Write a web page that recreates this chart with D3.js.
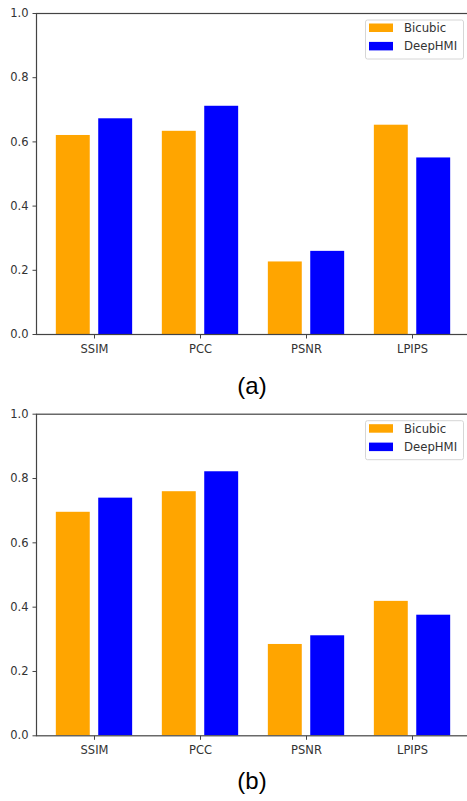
<!DOCTYPE html>
<html>

<head>
    <meta charset=utf-8 />
    <script src="https://cdn.jsdelivr.net/npm/d3@7"></script>
    <title>bicubic vs deephmi</title>
    <style>
        html,
        body {
            margin: 0;
            padding: 0;
            background: white;
        }

        svg {
            display: block;
        }

        .axis text {
            font-family: "DejaVu Sans", sans-serif;
            font-size: 11.5px;
            fill: #333;
        }

        .axis path,
        .axis line {
            stroke: #444;
        }
    </style>
</head>

<body>
    <svg width="467" height="801"></svg>
    <script>
        var metrics = ['SSIM', 'PCC', 'PSNR', 'LPIPS'];
        var seriesNames = ['Bicubic', 'DeepHMI'];
        var seriesColors = ['#ffa500', '#0000ff'];
        var yTicks = [0.0, 0.2, 0.4, 0.6, 0.8, 1.0];

        // panel (a)
        var bicubicA = [0.620, 0.633, 0.226, 0.652];
        var deepA = [0.672, 0.711, 0.259, 0.550];
        // panel (b)
        var bicubicB = [0.695, 0.759, 0.284, 0.418];
        var deepB = [0.739, 0.821, 0.311, 0.375];

        var svg = d3.select('svg');

        drawPanel({ top: 13, bottom: 334, series: [bicubicA, deepA], caption: '(a)', captionY: 394 });
        drawPanel({ top: 413.7, bottom: 735.3, series: [bicubicB, deepB], caption: '(b)', captionY: 789 });

        function drawPanel(p) {
            var left = 36, right = 470;
            var g = svg.append('g');

            var x = d3.scaleLinear()
                .domain([-0.547, metrics.length - 1 + 0.547])
                .range([left, right]);
            var y = d3.scaleLinear()
                .domain([0, 1])
                .range([p.bottom, p.top]);

            var barW = 0.32, offset = 0.2;

            p.series.forEach(function (vals, s) {
                g.append('g').selectAll('rect')
                    .data(vals)
                    .enter().append('rect')
                    .attr('x', function (d, i) {
                        return x(i + (s === 0 ? -offset : offset) - barW / 2);
                    })
                    .attr('width', x(barW) - x(0))
                    .attr('y', function (d) { return y(d); })
                    .attr('height', function (d) { return y(0) - y(d); })
                    .attr('fill', seriesColors[s]);
            });

            // frame
            g.append('rect')
                .attr('x', left + 0.5)
                .attr('y', p.top + 0.5)
                .attr('width', right - left)
                .attr('height', p.bottom - p.top)
                .attr('fill', 'none')
                .attr('stroke', '#444')
                .attr('stroke-width', 1.2);

            var yAxis = d3.axisLeft(y)
                .tickValues(yTicks)
                .tickFormat(d3.format('.1f'))
                .tickSize(4)
                .tickPadding(4);
            g.append('g')
                .attr('class', 'axis')
                .attr('transform', 'translate(' + (left + 0.5) + ',0)')
                .call(yAxis)
                .call(function (a) { a.select('.domain').remove(); });

            var xAxis = d3.axisBottom(x)
                .tickValues(d3.range(metrics.length))
                .tickFormat(function (i) { return metrics[i]; })
                .tickSize(4)
                .tickPadding(6);
            g.append('g')
                .attr('class', 'axis')
                .attr('transform', 'translate(0,' + (p.bottom + 0.5) + ')')
                .call(xAxis)
                .call(function (a) { a.select('.domain').remove(); });

            // legend
            var lx = 365, ly = p.top + 6.5;
            var leg = g.append('g').attr('transform', 'translate(' + lx + ',' + ly + ')');
            leg.append('rect')
                .attr('x', 0.5).attr('y', 0.5)
                .attr('width', 98).attr('height', 39)
                .attr('rx', 2)
                .attr('fill', 'white')
                .attr('stroke', '#d6d6d6');
            seriesNames.forEach(function (name, s) {
                leg.append('rect')
                    .attr('x', 4)
                    .attr('y', 4 + s * 18.4)
                    .attr('width', 24)
                    .attr('height', 8.5)
                    .attr('fill', seriesColors[s]);
                leg.append('text')
                    .attr('x', 39)
                    .attr('y', 12.5 + s * 18.4)
                    .attr('font-family', '"DejaVu Sans", sans-serif')
                    .attr('font-size', 11.7)
                    .attr('fill', '#333')
                    .text(name);
            });

            svg.append('text')
                .attr('x', 252)
                .attr('y', p.captionY)
                .attr('text-anchor', 'middle')
                .attr('font-family', '"Liberation Sans", Arial, sans-serif')
                .attr('font-size', 24)
                .attr('fill', '#000')
                .text(p.caption);
        }
    </script>
</body>

</html>
